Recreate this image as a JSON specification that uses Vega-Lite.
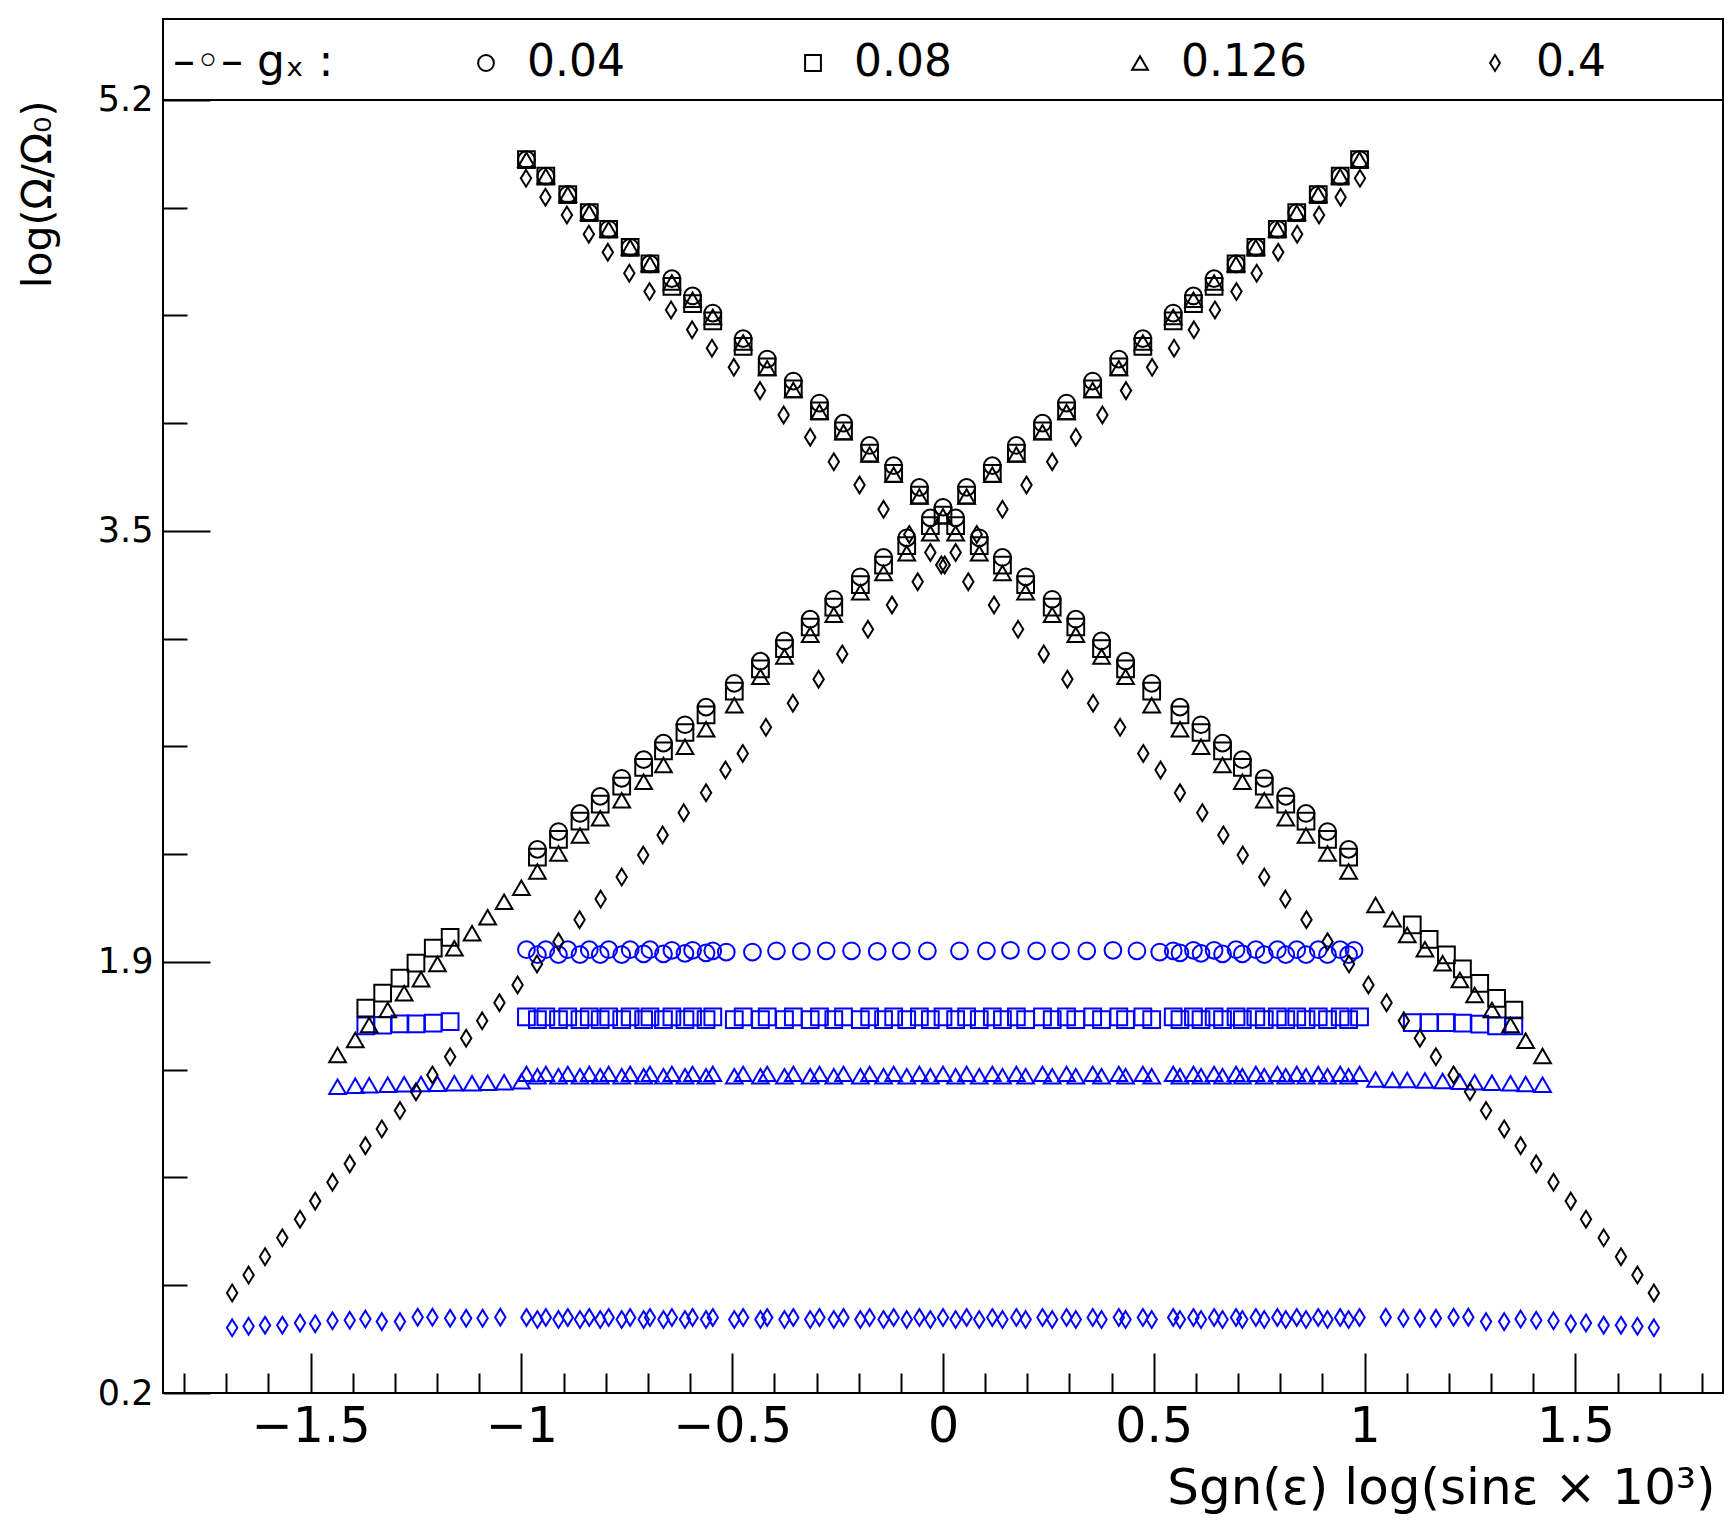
{
  "$schema": "https://vega.github.io/schema/vega-lite/v6.json",
  "description": "Log frequency ratio versus signed log(sin eps x 10^3) for four g_x values",
  "width": 1560,
  "height": 1374,
  "autosize": {"type": "none"},
  "padding": {"left": 163, "top": 19, "right": 12, "bottom": 129},
  "background": "white",
  "config": {
    "view": {"stroke": "black", "strokeWidth": 2},
    "font": "DejaVu Sans",
    "axis": {"grid": false, "domain": false, "labelFont": "DejaVu Sans", "titleFont": "DejaVu Sans", "labelColor": "black", "titleColor": "black", "tickColor": "black", "tickWidth": 2, "titleFontWeight": "normal"}
  },
  "layer": [
    {
      "data": {"values": [
        {"x":-0.988,"y":1.914,"g":"0.04","m":"f"},{"x":-0.962,"y":1.895,"g":"0.04","m":"f"},{"x":-0.942,"y":1.914,"g":"0.04","m":"f"},{"x":-0.912,"y":1.895,"g":"0.04","m":"f"},
        {"x":-0.890,"y":1.914,"g":"0.04","m":"f"},{"x":-0.861,"y":1.895,"g":"0.04","m":"f"},{"x":-0.839,"y":1.914,"g":"0.04","m":"f"},{"x":-0.813,"y":1.895,"g":"0.04","m":"f"},
        {"x":-0.793,"y":1.914,"g":"0.04","m":"f"},{"x":-0.762,"y":1.895,"g":"0.04","m":"f"},{"x":-0.742,"y":1.914,"g":"0.04","m":"f"},{"x":-0.710,"y":1.898,"g":"0.04","m":"f"},
        {"x":-0.695,"y":1.914,"g":"0.04","m":"f"},{"x":-0.663,"y":1.898,"g":"0.04","m":"f"},{"x":-0.643,"y":1.912,"g":"0.04","m":"f"},{"x":-0.612,"y":1.900,"g":"0.04","m":"f"},
        {"x":-0.594,"y":1.912,"g":"0.04","m":"f"},{"x":-0.562,"y":1.902,"g":"0.04","m":"f"},{"x":-0.546,"y":1.910,"g":"0.04","m":"f"},{"x":-0.514,"y":1.905,"g":"0.04","m":"f"},
        {"x":-0.452,"y":1.905,"g":"0.04","m":"f"},{"x":-0.395,"y":1.910,"g":"0.04","m":"f"},{"x":-0.336,"y":1.908,"g":"0.04","m":"f"},{"x":-0.277,"y":1.910,"g":"0.04","m":"f"},
        {"x":-0.217,"y":1.910,"g":"0.04","m":"f"},{"x":-0.156,"y":1.908,"g":"0.04","m":"f"},{"x":-0.099,"y":1.910,"g":"0.04","m":"f"},{"x":-0.037,"y":1.910,"g":"0.04","m":"f"},
        {"x":0.039,"y":1.910,"g":"0.04","m":"f"},{"x":0.103,"y":1.910,"g":"0.04","m":"f"},{"x":0.160,"y":1.912,"g":"0.04","m":"f"},{"x":0.222,"y":1.910,"g":"0.04","m":"f"},
        {"x":0.279,"y":1.910,"g":"0.04","m":"f"},{"x":0.341,"y":1.910,"g":"0.04","m":"f"},{"x":0.403,"y":1.912,"g":"0.04","m":"f"},{"x":0.460,"y":1.910,"g":"0.04","m":"f"},
        {"x":0.514,"y":1.905,"g":"0.04","m":"f"},{"x":0.546,"y":1.910,"g":"0.04","m":"f"},{"x":0.562,"y":1.902,"g":"0.04","m":"f"},{"x":0.594,"y":1.912,"g":"0.04","m":"f"},
        {"x":0.612,"y":1.900,"g":"0.04","m":"f"},{"x":0.643,"y":1.912,"g":"0.04","m":"f"},{"x":0.663,"y":1.898,"g":"0.04","m":"f"},{"x":0.695,"y":1.914,"g":"0.04","m":"f"},
        {"x":0.710,"y":1.898,"g":"0.04","m":"f"},{"x":0.742,"y":1.914,"g":"0.04","m":"f"},{"x":0.762,"y":1.895,"g":"0.04","m":"f"},{"x":0.793,"y":1.914,"g":"0.04","m":"f"},
        {"x":0.813,"y":1.895,"g":"0.04","m":"f"},{"x":0.839,"y":1.914,"g":"0.04","m":"f"},{"x":0.861,"y":1.895,"g":"0.04","m":"f"},{"x":0.890,"y":1.914,"g":"0.04","m":"f"},
        {"x":0.912,"y":1.895,"g":"0.04","m":"f"},{"x":0.942,"y":1.914,"g":"0.04","m":"f"},{"x":0.962,"y":1.895,"g":"0.04","m":"f"},{"x":0.975,"y":1.912,"g":"0.04","m":"f"},

        {"x":-1.369,"y":1.620,"g":"0.08","m":"f"},{"x":-1.329,"y":1.622,"g":"0.08","m":"f"},{"x":-1.288,"y":1.627,"g":"0.08","m":"f"},{"x":-1.250,"y":1.627,"g":"0.08","m":"f"},
        {"x":-1.209,"y":1.630,"g":"0.08","m":"f"},{"x":-1.169,"y":1.636,"g":"0.08","m":"f"},
        {"x":-0.988,"y":1.654,"g":"0.08","m":"f"},{"x":-0.962,"y":1.644,"g":"0.08","m":"f"},{"x":-0.942,"y":1.654,"g":"0.08","m":"f"},{"x":-0.912,"y":1.644,"g":"0.08","m":"f"},
        {"x":-0.890,"y":1.654,"g":"0.08","m":"f"},{"x":-0.861,"y":1.644,"g":"0.08","m":"f"},{"x":-0.839,"y":1.654,"g":"0.08","m":"f"},{"x":-0.813,"y":1.644,"g":"0.08","m":"f"},
        {"x":-0.793,"y":1.654,"g":"0.08","m":"f"},{"x":-0.762,"y":1.644,"g":"0.08","m":"f"},{"x":-0.742,"y":1.654,"g":"0.08","m":"f"},{"x":-0.710,"y":1.644,"g":"0.08","m":"f"},
        {"x":-0.695,"y":1.654,"g":"0.08","m":"f"},{"x":-0.663,"y":1.644,"g":"0.08","m":"f"},{"x":-0.643,"y":1.654,"g":"0.08","m":"f"},{"x":-0.612,"y":1.644,"g":"0.08","m":"f"},
        {"x":-0.594,"y":1.654,"g":"0.08","m":"f"},{"x":-0.562,"y":1.644,"g":"0.08","m":"f"},{"x":-0.546,"y":1.654,"g":"0.08","m":"f"},{"x":-0.495,"y":1.644,"g":"0.08","m":"f"},
        {"x":-0.474,"y":1.654,"g":"0.08","m":"f"},{"x":-0.433,"y":1.644,"g":"0.08","m":"f"},{"x":-0.417,"y":1.654,"g":"0.08","m":"f"},{"x":-0.376,"y":1.644,"g":"0.08","m":"f"},
        {"x":-0.355,"y":1.654,"g":"0.08","m":"f"},{"x":-0.315,"y":1.644,"g":"0.08","m":"f"},{"x":-0.293,"y":1.654,"g":"0.08","m":"f"},{"x":-0.259,"y":1.644,"g":"0.08","m":"f"},
        {"x":-0.236,"y":1.654,"g":"0.08","m":"f"},{"x":-0.196,"y":1.644,"g":"0.08","m":"f"},{"x":-0.174,"y":1.654,"g":"0.08","m":"f"},{"x":-0.141,"y":1.644,"g":"0.08","m":"f"},
        {"x":-0.117,"y":1.654,"g":"0.08","m":"f"},{"x":-0.086,"y":1.644,"g":"0.08","m":"f"},{"x":-0.056,"y":1.654,"g":"0.08","m":"f"},{"x":-0.030,"y":1.644,"g":"0.08","m":"f"},
        {"x":0.000,"y":1.654,"g":"0.08","m":"f"},
        {"x":0.030,"y":1.644,"g":"0.08","m":"f"},{"x":0.056,"y":1.654,"g":"0.08","m":"f"},{"x":0.086,"y":1.644,"g":"0.08","m":"f"},{"x":0.117,"y":1.654,"g":"0.08","m":"f"},
        {"x":0.141,"y":1.644,"g":"0.08","m":"f"},{"x":0.174,"y":1.654,"g":"0.08","m":"f"},{"x":0.196,"y":1.644,"g":"0.08","m":"f"},{"x":0.236,"y":1.654,"g":"0.08","m":"f"},
        {"x":0.259,"y":1.644,"g":"0.08","m":"f"},{"x":0.293,"y":1.654,"g":"0.08","m":"f"},{"x":0.315,"y":1.644,"g":"0.08","m":"f"},{"x":0.355,"y":1.654,"g":"0.08","m":"f"},
        {"x":0.376,"y":1.644,"g":"0.08","m":"f"},{"x":0.417,"y":1.654,"g":"0.08","m":"f"},{"x":0.433,"y":1.644,"g":"0.08","m":"f"},{"x":0.474,"y":1.654,"g":"0.08","m":"f"},
        {"x":0.495,"y":1.644,"g":"0.08","m":"f"},{"x":0.546,"y":1.654,"g":"0.08","m":"f"},{"x":0.562,"y":1.644,"g":"0.08","m":"f"},{"x":0.594,"y":1.654,"g":"0.08","m":"f"},
        {"x":0.612,"y":1.644,"g":"0.08","m":"f"},{"x":0.643,"y":1.654,"g":"0.08","m":"f"},{"x":0.663,"y":1.644,"g":"0.08","m":"f"},{"x":0.695,"y":1.654,"g":"0.08","m":"f"},
        {"x":0.710,"y":1.644,"g":"0.08","m":"f"},{"x":0.742,"y":1.654,"g":"0.08","m":"f"},{"x":0.762,"y":1.644,"g":"0.08","m":"f"},{"x":0.793,"y":1.654,"g":"0.08","m":"f"},
        {"x":0.813,"y":1.644,"g":"0.08","m":"f"},{"x":0.839,"y":1.654,"g":"0.08","m":"f"},{"x":0.861,"y":1.644,"g":"0.08","m":"f"},{"x":0.890,"y":1.654,"g":"0.08","m":"f"},
        {"x":0.912,"y":1.644,"g":"0.08","m":"f"},{"x":0.942,"y":1.654,"g":"0.08","m":"f"},{"x":0.962,"y":1.644,"g":"0.08","m":"f"},{"x":0.988,"y":1.654,"g":"0.08","m":"f"},
        {"x":1.113,"y":1.632,"g":"0.08","m":"f"},{"x":1.153,"y":1.632,"g":"0.08","m":"f"},{"x":1.194,"y":1.632,"g":"0.08","m":"f"},{"x":1.232,"y":1.630,"g":"0.08","m":"f"},
        {"x":1.273,"y":1.626,"g":"0.08","m":"f"},{"x":1.313,"y":1.620,"g":"0.08","m":"f"},{"x":1.354,"y":1.620,"g":"0.08","m":"f"},

        {"x":-1.436,"y":1.384,"g":"0.126","m":"f"},{"x":-1.394,"y":1.388,"g":"0.126","m":"f"},{"x":-1.361,"y":1.390,"g":"0.126","m":"f"},{"x":-1.317,"y":1.392,"g":"0.126","m":"f"},
        {"x":-1.278,"y":1.394,"g":"0.126","m":"f"},{"x":-1.238,"y":1.395,"g":"0.126","m":"f"},{"x":-1.199,"y":1.396,"g":"0.126","m":"f"},{"x":-1.159,"y":1.398,"g":"0.126","m":"f"},
        {"x":-1.117,"y":1.398,"g":"0.126","m":"f"},{"x":-1.080,"y":1.400,"g":"0.126","m":"f"},{"x":-1.041,"y":1.402,"g":"0.126","m":"f"},{"x":-1.000,"y":1.405,"g":"0.126","m":"f"},
        {"x":-0.988,"y":1.434,"g":"0.126","m":"f"},{"x":-0.962,"y":1.425,"g":"0.126","m":"f"},{"x":-0.942,"y":1.434,"g":"0.126","m":"f"},{"x":-0.912,"y":1.425,"g":"0.126","m":"f"},
        {"x":-0.890,"y":1.434,"g":"0.126","m":"f"},{"x":-0.861,"y":1.425,"g":"0.126","m":"f"},{"x":-0.839,"y":1.434,"g":"0.126","m":"f"},{"x":-0.813,"y":1.425,"g":"0.126","m":"f"},
        {"x":-0.793,"y":1.434,"g":"0.126","m":"f"},{"x":-0.762,"y":1.425,"g":"0.126","m":"f"},{"x":-0.742,"y":1.434,"g":"0.126","m":"f"},{"x":-0.710,"y":1.425,"g":"0.126","m":"f"},
        {"x":-0.695,"y":1.434,"g":"0.126","m":"f"},{"x":-0.663,"y":1.425,"g":"0.126","m":"f"},{"x":-0.643,"y":1.434,"g":"0.126","m":"f"},{"x":-0.612,"y":1.425,"g":"0.126","m":"f"},
        {"x":-0.594,"y":1.434,"g":"0.126","m":"f"},{"x":-0.562,"y":1.425,"g":"0.126","m":"f"},{"x":-0.546,"y":1.434,"g":"0.126","m":"f"},{"x":-0.495,"y":1.425,"g":"0.126","m":"f"},
        {"x":-0.474,"y":1.434,"g":"0.126","m":"f"},{"x":-0.433,"y":1.425,"g":"0.126","m":"f"},{"x":-0.417,"y":1.434,"g":"0.126","m":"f"},{"x":-0.376,"y":1.425,"g":"0.126","m":"f"},
        {"x":-0.355,"y":1.434,"g":"0.126","m":"f"},{"x":-0.315,"y":1.425,"g":"0.126","m":"f"},{"x":-0.293,"y":1.434,"g":"0.126","m":"f"},{"x":-0.259,"y":1.425,"g":"0.126","m":"f"},
        {"x":-0.236,"y":1.434,"g":"0.126","m":"f"},{"x":-0.196,"y":1.425,"g":"0.126","m":"f"},{"x":-0.174,"y":1.434,"g":"0.126","m":"f"},{"x":-0.141,"y":1.425,"g":"0.126","m":"f"},
        {"x":-0.117,"y":1.434,"g":"0.126","m":"f"},{"x":-0.086,"y":1.425,"g":"0.126","m":"f"},{"x":-0.056,"y":1.434,"g":"0.126","m":"f"},{"x":-0.030,"y":1.425,"g":"0.126","m":"f"},
        {"x":0.000,"y":1.434,"g":"0.126","m":"f"},
        {"x":0.030,"y":1.425,"g":"0.126","m":"f"},{"x":0.056,"y":1.434,"g":"0.126","m":"f"},{"x":0.086,"y":1.425,"g":"0.126","m":"f"},{"x":0.117,"y":1.434,"g":"0.126","m":"f"},
        {"x":0.141,"y":1.425,"g":"0.126","m":"f"},{"x":0.174,"y":1.434,"g":"0.126","m":"f"},{"x":0.196,"y":1.425,"g":"0.126","m":"f"},{"x":0.236,"y":1.434,"g":"0.126","m":"f"},
        {"x":0.259,"y":1.425,"g":"0.126","m":"f"},{"x":0.293,"y":1.434,"g":"0.126","m":"f"},{"x":0.315,"y":1.425,"g":"0.126","m":"f"},{"x":0.355,"y":1.434,"g":"0.126","m":"f"},
        {"x":0.376,"y":1.425,"g":"0.126","m":"f"},{"x":0.417,"y":1.434,"g":"0.126","m":"f"},{"x":0.433,"y":1.425,"g":"0.126","m":"f"},{"x":0.474,"y":1.434,"g":"0.126","m":"f"},
        {"x":0.495,"y":1.425,"g":"0.126","m":"f"},{"x":0.546,"y":1.434,"g":"0.126","m":"f"},{"x":0.562,"y":1.425,"g":"0.126","m":"f"},{"x":0.594,"y":1.434,"g":"0.126","m":"f"},
        {"x":0.612,"y":1.425,"g":"0.126","m":"f"},{"x":0.643,"y":1.434,"g":"0.126","m":"f"},{"x":0.663,"y":1.425,"g":"0.126","m":"f"},{"x":0.695,"y":1.434,"g":"0.126","m":"f"},
        {"x":0.710,"y":1.425,"g":"0.126","m":"f"},{"x":0.742,"y":1.434,"g":"0.126","m":"f"},{"x":0.762,"y":1.425,"g":"0.126","m":"f"},{"x":0.793,"y":1.434,"g":"0.126","m":"f"},
        {"x":0.813,"y":1.425,"g":"0.126","m":"f"},{"x":0.839,"y":1.434,"g":"0.126","m":"f"},{"x":0.861,"y":1.425,"g":"0.126","m":"f"},{"x":0.890,"y":1.434,"g":"0.126","m":"f"},
        {"x":0.912,"y":1.425,"g":"0.126","m":"f"},{"x":0.942,"y":1.434,"g":"0.126","m":"f"},{"x":0.962,"y":1.425,"g":"0.126","m":"f"},{"x":0.988,"y":1.434,"g":"0.126","m":"f"},
        {"x":1.026,"y":1.412,"g":"0.126","m":"f"},{"x":1.066,"y":1.410,"g":"0.126","m":"f"},{"x":1.101,"y":1.410,"g":"0.126","m":"f"},{"x":1.143,"y":1.408,"g":"0.126","m":"f"},
        {"x":1.185,"y":1.406,"g":"0.126","m":"f"},{"x":1.226,"y":1.404,"g":"0.126","m":"f"},{"x":1.261,"y":1.402,"g":"0.126","m":"f"},{"x":1.302,"y":1.400,"g":"0.126","m":"f"},
        {"x":1.346,"y":1.398,"g":"0.126","m":"f"},{"x":1.382,"y":1.395,"g":"0.126","m":"f"},{"x":1.422,"y":1.392,"g":"0.126","m":"f"},

        {"x":-1.686,"y":0.452,"g":"0.4","m":"f"},{"x":-1.647,"y":0.458,"g":"0.4","m":"f"},{"x":-1.608,"y":0.462,"g":"0.4","m":"f"},{"x":-1.567,"y":0.462,"g":"0.4","m":"f"},
        {"x":-1.525,"y":0.471,"g":"0.4","m":"f"},{"x":-1.489,"y":0.468,"g":"0.4","m":"f"},{"x":-1.448,"y":0.479,"g":"0.4","m":"f"},{"x":-1.407,"y":0.481,"g":"0.4","m":"f"},
        {"x":-1.370,"y":0.486,"g":"0.4","m":"f"},{"x":-1.331,"y":0.476,"g":"0.4","m":"f"},{"x":-1.288,"y":0.476,"g":"0.4","m":"f"},{"x":-1.246,"y":0.493,"g":"0.4","m":"f"},
        {"x":-1.211,"y":0.493,"g":"0.4","m":"f"},{"x":-1.169,"y":0.489,"g":"0.4","m":"f"},{"x":-1.131,"y":0.489,"g":"0.4","m":"f"},{"x":-1.092,"y":0.489,"g":"0.4","m":"f"},
        {"x":-1.050,"y":0.493,"g":"0.4","m":"f"},
        {"x":-0.988,"y":0.492,"g":"0.4","m":"f"},{"x":-0.962,"y":0.484,"g":"0.4","m":"f"},{"x":-0.942,"y":0.492,"g":"0.4","m":"f"},{"x":-0.912,"y":0.484,"g":"0.4","m":"f"},
        {"x":-0.890,"y":0.492,"g":"0.4","m":"f"},{"x":-0.861,"y":0.484,"g":"0.4","m":"f"},{"x":-0.839,"y":0.492,"g":"0.4","m":"f"},{"x":-0.813,"y":0.484,"g":"0.4","m":"f"},
        {"x":-0.793,"y":0.492,"g":"0.4","m":"f"},{"x":-0.762,"y":0.484,"g":"0.4","m":"f"},{"x":-0.742,"y":0.492,"g":"0.4","m":"f"},{"x":-0.710,"y":0.484,"g":"0.4","m":"f"},
        {"x":-0.695,"y":0.492,"g":"0.4","m":"f"},{"x":-0.663,"y":0.484,"g":"0.4","m":"f"},{"x":-0.643,"y":0.492,"g":"0.4","m":"f"},{"x":-0.612,"y":0.484,"g":"0.4","m":"f"},
        {"x":-0.594,"y":0.492,"g":"0.4","m":"f"},{"x":-0.562,"y":0.484,"g":"0.4","m":"f"},{"x":-0.546,"y":0.492,"g":"0.4","m":"f"},{"x":-0.495,"y":0.484,"g":"0.4","m":"f"},
        {"x":-0.474,"y":0.492,"g":"0.4","m":"f"},{"x":-0.433,"y":0.484,"g":"0.4","m":"f"},{"x":-0.417,"y":0.492,"g":"0.4","m":"f"},{"x":-0.376,"y":0.484,"g":"0.4","m":"f"},
        {"x":-0.355,"y":0.492,"g":"0.4","m":"f"},{"x":-0.315,"y":0.484,"g":"0.4","m":"f"},{"x":-0.293,"y":0.492,"g":"0.4","m":"f"},{"x":-0.259,"y":0.484,"g":"0.4","m":"f"},
        {"x":-0.236,"y":0.492,"g":"0.4","m":"f"},{"x":-0.196,"y":0.484,"g":"0.4","m":"f"},{"x":-0.174,"y":0.492,"g":"0.4","m":"f"},{"x":-0.141,"y":0.484,"g":"0.4","m":"f"},
        {"x":-0.117,"y":0.492,"g":"0.4","m":"f"},{"x":-0.086,"y":0.484,"g":"0.4","m":"f"},{"x":-0.056,"y":0.492,"g":"0.4","m":"f"},{"x":-0.030,"y":0.484,"g":"0.4","m":"f"},
        {"x":0.000,"y":0.492,"g":"0.4","m":"f"},
        {"x":0.030,"y":0.484,"g":"0.4","m":"f"},{"x":0.056,"y":0.492,"g":"0.4","m":"f"},{"x":0.086,"y":0.484,"g":"0.4","m":"f"},{"x":0.117,"y":0.492,"g":"0.4","m":"f"},
        {"x":0.141,"y":0.484,"g":"0.4","m":"f"},{"x":0.174,"y":0.492,"g":"0.4","m":"f"},{"x":0.196,"y":0.484,"g":"0.4","m":"f"},{"x":0.236,"y":0.492,"g":"0.4","m":"f"},
        {"x":0.259,"y":0.484,"g":"0.4","m":"f"},{"x":0.293,"y":0.492,"g":"0.4","m":"f"},{"x":0.315,"y":0.484,"g":"0.4","m":"f"},{"x":0.355,"y":0.492,"g":"0.4","m":"f"},
        {"x":0.376,"y":0.484,"g":"0.4","m":"f"},{"x":0.417,"y":0.492,"g":"0.4","m":"f"},{"x":0.433,"y":0.484,"g":"0.4","m":"f"},{"x":0.474,"y":0.492,"g":"0.4","m":"f"},
        {"x":0.495,"y":0.484,"g":"0.4","m":"f"},{"x":0.546,"y":0.492,"g":"0.4","m":"f"},{"x":0.562,"y":0.484,"g":"0.4","m":"f"},{"x":0.594,"y":0.492,"g":"0.4","m":"f"},
        {"x":0.612,"y":0.484,"g":"0.4","m":"f"},{"x":0.643,"y":0.492,"g":"0.4","m":"f"},{"x":0.663,"y":0.484,"g":"0.4","m":"f"},{"x":0.695,"y":0.492,"g":"0.4","m":"f"},
        {"x":0.710,"y":0.484,"g":"0.4","m":"f"},{"x":0.742,"y":0.492,"g":"0.4","m":"f"},{"x":0.762,"y":0.484,"g":"0.4","m":"f"},{"x":0.793,"y":0.492,"g":"0.4","m":"f"},
        {"x":0.813,"y":0.484,"g":"0.4","m":"f"},{"x":0.839,"y":0.492,"g":"0.4","m":"f"},{"x":0.861,"y":0.484,"g":"0.4","m":"f"},{"x":0.890,"y":0.492,"g":"0.4","m":"f"},
        {"x":0.912,"y":0.484,"g":"0.4","m":"f"},{"x":0.942,"y":0.492,"g":"0.4","m":"f"},{"x":0.962,"y":0.484,"g":"0.4","m":"f"},{"x":0.988,"y":0.492,"g":"0.4","m":"f"},
        {"x":1.050,"y":0.493,"g":"0.4","m":"f"},{"x":1.092,"y":0.489,"g":"0.4","m":"f"},{"x":1.131,"y":0.489,"g":"0.4","m":"f"},{"x":1.169,"y":0.489,"g":"0.4","m":"f"},
        {"x":1.211,"y":0.493,"g":"0.4","m":"f"},{"x":1.246,"y":0.493,"g":"0.4","m":"f"},{"x":1.288,"y":0.476,"g":"0.4","m":"f"},{"x":1.331,"y":0.476,"g":"0.4","m":"f"},
        {"x":1.370,"y":0.486,"g":"0.4","m":"f"},{"x":1.407,"y":0.481,"g":"0.4","m":"f"},{"x":1.448,"y":0.479,"g":"0.4","m":"f"},{"x":1.489,"y":0.468,"g":"0.4","m":"f"},
        {"x":1.525,"y":0.471,"g":"0.4","m":"f"},{"x":1.567,"y":0.462,"g":"0.4","m":"f"},{"x":1.608,"y":0.462,"g":"0.4","m":"f"},{"x":1.647,"y":0.458,"g":"0.4","m":"f"},
        {"x":1.686,"y":0.452,"g":"0.4","m":"f"},

        {"x":-1.686,"y":0.587,"g":"0.4","m":"c"},{"x":-1.647,"y":0.656,"g":"0.4","m":"c"},{"x":-1.608,"y":0.727,"g":"0.4","m":"c"},{"x":-1.567,"y":0.800,"g":"0.4","m":"c"},
        {"x":-1.525,"y":0.872,"g":"0.4","m":"c"},{"x":-1.489,"y":0.942,"g":"0.4","m":"c"},{"x":-1.448,"y":1.015,"g":"0.4","m":"c"},{"x":-1.407,"y":1.086,"g":"0.4","m":"c"},
        {"x":-1.370,"y":1.156,"g":"0.4","m":"c"},{"x":-1.331,"y":1.221,"g":"0.4","m":"c"},{"x":-1.288,"y":1.292,"g":"0.4","m":"c"},{"x":-1.250,"y":1.365,"g":"0.4","m":"c"},
        {"x":-1.211,"y":1.430,"g":"0.4","m":"c"},{"x":-1.169,"y":1.500,"g":"0.4","m":"c"},{"x":-1.131,"y":1.572,"g":"0.4","m":"c"},{"x":-1.093,"y":1.639,"g":"0.4","m":"c"},
        {"x":-1.052,"y":1.709,"g":"0.4","m":"c"},{"x":-1.009,"y":1.778,"g":"0.4","m":"c"},{"x":-0.963,"y":1.859,"g":"0.4","m":"c"},{"x":-0.912,"y":1.945,"g":"0.4","m":"c"},
        {"x":-0.862,"y":2.030,"g":"0.4","m":"c"},{"x":-0.812,"y":2.110,"g":"0.4","m":"c"},{"x":-0.762,"y":2.195,"g":"0.4","m":"c"},{"x":-0.711,"y":2.280,"g":"0.4","m":"c"},
        {"x":-0.665,"y":2.358,"g":"0.4","m":"c"},{"x":-0.615,"y":2.444,"g":"0.4","m":"c"},{"x":-0.562,"y":2.521,"g":"0.4","m":"c"},{"x":-0.516,"y":2.609,"g":"0.4","m":"c"},
        {"x":-0.475,"y":2.673,"g":"0.4","m":"c"},{"x":-0.420,"y":2.774,"g":"0.4","m":"c"},{"x":-0.356,"y":2.867,"g":"0.4","m":"c"},{"x":-0.295,"y":2.960,"g":"0.4","m":"c"},
        {"x":-0.239,"y":3.058,"g":"0.4","m":"c"},{"x":-0.178,"y":3.153,"g":"0.4","m":"c"},{"x":-0.121,"y":3.247,"g":"0.4","m":"c"},{"x":-0.060,"y":3.337,"g":"0.4","m":"c"},
        {"x":-0.004,"y":3.402,"g":"0.4","m":"c"},{"x":0.030,"y":3.450,"g":"0.4","m":"c"},{"x":0.080,"y":3.520,"g":"0.4","m":"c"},{"x":0.141,"y":3.617,"g":"0.4","m":"c"},
        {"x":0.198,"y":3.711,"g":"0.4","m":"c"},{"x":0.259,"y":3.801,"g":"0.4","m":"c"},{"x":0.315,"y":3.896,"g":"0.4","m":"c"},{"x":0.378,"y":3.982,"g":"0.4","m":"c"},
        {"x":0.434,"y":4.076,"g":"0.4","m":"c"},{"x":0.496,"y":4.166,"g":"0.4","m":"c"},{"x":0.548,"y":4.240,"g":"0.4","m":"c"},{"x":0.595,"y":4.311,"g":"0.4","m":"c"},
        {"x":0.645,"y":4.388,"g":"0.4","m":"c"},{"x":0.696,"y":4.459,"g":"0.4","m":"c"},{"x":0.744,"y":4.530,"g":"0.4","m":"c"},{"x":0.795,"y":4.611,"g":"0.4","m":"c"},
        {"x":0.840,"y":4.681,"g":"0.4","m":"c"},{"x":0.892,"y":4.755,"g":"0.4","m":"c"},{"x":0.943,"y":4.824,"g":"0.4","m":"c"},{"x":0.989,"y":4.897,"g":"0.4","m":"c"},
        {"x":1.686,"y":0.587,"g":"0.4","m":"c"},{"x":1.647,"y":0.656,"g":"0.4","m":"c"},{"x":1.608,"y":0.727,"g":"0.4","m":"c"},{"x":1.567,"y":0.800,"g":"0.4","m":"c"},
        {"x":1.525,"y":0.872,"g":"0.4","m":"c"},{"x":1.489,"y":0.942,"g":"0.4","m":"c"},{"x":1.448,"y":1.015,"g":"0.4","m":"c"},{"x":1.407,"y":1.086,"g":"0.4","m":"c"},
        {"x":1.370,"y":1.156,"g":"0.4","m":"c"},{"x":1.331,"y":1.221,"g":"0.4","m":"c"},{"x":1.288,"y":1.292,"g":"0.4","m":"c"},{"x":1.250,"y":1.365,"g":"0.4","m":"c"},
        {"x":1.211,"y":1.430,"g":"0.4","m":"c"},{"x":1.169,"y":1.500,"g":"0.4","m":"c"},{"x":1.131,"y":1.572,"g":"0.4","m":"c"},{"x":1.093,"y":1.639,"g":"0.4","m":"c"},
        {"x":1.052,"y":1.709,"g":"0.4","m":"c"},{"x":1.009,"y":1.778,"g":"0.4","m":"c"},{"x":0.963,"y":1.859,"g":"0.4","m":"c"},{"x":0.912,"y":1.945,"g":"0.4","m":"c"},
        {"x":0.862,"y":2.030,"g":"0.4","m":"c"},{"x":0.812,"y":2.110,"g":"0.4","m":"c"},{"x":0.762,"y":2.195,"g":"0.4","m":"c"},{"x":0.711,"y":2.280,"g":"0.4","m":"c"},
        {"x":0.665,"y":2.358,"g":"0.4","m":"c"},{"x":0.615,"y":2.444,"g":"0.4","m":"c"},{"x":0.562,"y":2.521,"g":"0.4","m":"c"},{"x":0.516,"y":2.609,"g":"0.4","m":"c"},
        {"x":0.475,"y":2.673,"g":"0.4","m":"c"},{"x":0.420,"y":2.774,"g":"0.4","m":"c"},{"x":0.356,"y":2.867,"g":"0.4","m":"c"},{"x":0.295,"y":2.960,"g":"0.4","m":"c"},
        {"x":0.239,"y":3.058,"g":"0.4","m":"c"},{"x":0.178,"y":3.153,"g":"0.4","m":"c"},{"x":0.121,"y":3.247,"g":"0.4","m":"c"},{"x":0.060,"y":3.337,"g":"0.4","m":"c"},
        {"x":0.004,"y":3.402,"g":"0.4","m":"c"},{"x":-0.030,"y":3.450,"g":"0.4","m":"c"},{"x":-0.080,"y":3.520,"g":"0.4","m":"c"},{"x":-0.141,"y":3.617,"g":"0.4","m":"c"},
        {"x":-0.198,"y":3.711,"g":"0.4","m":"c"},{"x":-0.259,"y":3.801,"g":"0.4","m":"c"},{"x":-0.315,"y":3.896,"g":"0.4","m":"c"},{"x":-0.378,"y":3.982,"g":"0.4","m":"c"},
        {"x":-0.434,"y":4.076,"g":"0.4","m":"c"},{"x":-0.496,"y":4.166,"g":"0.4","m":"c"},{"x":-0.548,"y":4.240,"g":"0.4","m":"c"},{"x":-0.595,"y":4.311,"g":"0.4","m":"c"},
        {"x":-0.645,"y":4.388,"g":"0.4","m":"c"},{"x":-0.696,"y":4.459,"g":"0.4","m":"c"},{"x":-0.744,"y":4.530,"g":"0.4","m":"c"},{"x":-0.795,"y":4.611,"g":"0.4","m":"c"},
        {"x":-0.840,"y":4.681,"g":"0.4","m":"c"},{"x":-0.892,"y":4.755,"g":"0.4","m":"c"},{"x":-0.943,"y":4.824,"g":"0.4","m":"c"},{"x":-0.989,"y":4.897,"g":"0.4","m":"c"},

        {"x":-1.436,"y":1.507,"g":"0.126","m":"c"},{"x":-1.394,"y":1.565,"g":"0.126","m":"c"},{"x":-1.361,"y":1.623,"g":"0.126","m":"c"},{"x":-1.317,"y":1.681,"g":"0.126","m":"c"},
        {"x":-1.278,"y":1.746,"g":"0.126","m":"c"},{"x":-1.238,"y":1.800,"g":"0.126","m":"c"},{"x":-1.199,"y":1.859,"g":"0.126","m":"c"},{"x":-1.159,"y":1.920,"g":"0.126","m":"c"},
        {"x":-1.117,"y":1.978,"g":"0.126","m":"c"},{"x":-1.080,"y":2.040,"g":"0.126","m":"c"},{"x":-1.041,"y":2.100,"g":"0.126","m":"c"},{"x":-1.000,"y":2.154,"g":"0.126","m":"c"},
        {"x":1.026,"y":2.087,"g":"0.126","m":"c"},{"x":1.066,"y":2.032,"g":"0.126","m":"c"},{"x":1.101,"y":1.971,"g":"0.126","m":"c"},{"x":1.143,"y":1.916,"g":"0.126","m":"c"},
        {"x":1.185,"y":1.862,"g":"0.126","m":"c"},{"x":1.226,"y":1.797,"g":"0.126","m":"c"},{"x":1.261,"y":1.739,"g":"0.126","m":"c"},{"x":1.302,"y":1.681,"g":"0.126","m":"c"},
        {"x":1.346,"y":1.623,"g":"0.126","m":"c"},{"x":1.382,"y":1.562,"g":"0.126","m":"c"},{"x":1.422,"y":1.503,"g":"0.126","m":"c"},
        {"x":-0.988,"y":4.969,"g":"0.126","m":"c"},{"x":-0.942,"y":4.905,"g":"0.126","m":"c"},{"x":-0.890,"y":4.834,"g":"0.126","m":"c"},{"x":-0.839,"y":4.764,"g":"0.126","m":"c"},
        {"x":-0.793,"y":4.700,"g":"0.126","m":"c"},{"x":-0.742,"y":4.630,"g":"0.126","m":"c"},{"x":-0.695,"y":4.566,"g":"0.126","m":"c"},{"x":-0.643,"y":4.494,"g":"0.126","m":"c"},
        {"x":-0.594,"y":4.427,"g":"0.126","m":"c"},{"x":-0.546,"y":4.361,"g":"0.126","m":"c"},{"x":-0.474,"y":4.262,"g":"0.126","m":"c"},{"x":-0.417,"y":4.163,"g":"0.126","m":"c"},
        {"x":-0.355,"y":4.078,"g":"0.126","m":"c"},{"x":-0.293,"y":3.993,"g":"0.126","m":"c"},{"x":-0.236,"y":3.915,"g":"0.126","m":"c"},{"x":-0.174,"y":3.829,"g":"0.126","m":"c"},
        {"x":-0.117,"y":3.751,"g":"0.126","m":"c"},{"x":-0.056,"y":3.667,"g":"0.126","m":"c"},{"x":0.000,"y":3.590,"g":"0.126","m":"c"},{"x":0.030,"y":3.524,"g":"0.126","m":"c"},
        {"x":0.086,"y":3.447,"g":"0.126","m":"c"},{"x":0.141,"y":3.371,"g":"0.126","m":"c"},{"x":0.196,"y":3.296,"g":"0.126","m":"c"},{"x":0.259,"y":3.209,"g":"0.126","m":"c"},
        {"x":0.315,"y":3.132,"g":"0.126","m":"c"},{"x":0.376,"y":3.048,"g":"0.126","m":"c"},{"x":0.433,"y":2.970,"g":"0.126","m":"c"},{"x":0.495,"y":2.859,"g":"0.126","m":"c"},
        {"x":0.562,"y":2.767,"g":"0.126","m":"c"},{"x":0.612,"y":2.699,"g":"0.126","m":"c"},{"x":0.663,"y":2.628,"g":"0.126","m":"c"},{"x":0.710,"y":2.564,"g":"0.126","m":"c"},
        {"x":0.762,"y":2.492,"g":"0.126","m":"c"},{"x":0.813,"y":2.422,"g":"0.126","m":"c"},{"x":0.861,"y":2.356,"g":"0.126","m":"c"},{"x":0.912,"y":2.286,"g":"0.126","m":"c"},
        {"x":0.962,"y":2.217,"g":"0.126","m":"c"},
        {"x":0.988,"y":4.969,"g":"0.126","m":"c"},{"x":0.942,"y":4.905,"g":"0.126","m":"c"},{"x":0.890,"y":4.834,"g":"0.126","m":"c"},{"x":0.839,"y":4.764,"g":"0.126","m":"c"},
        {"x":0.793,"y":4.700,"g":"0.126","m":"c"},{"x":0.742,"y":4.630,"g":"0.126","m":"c"},{"x":0.695,"y":4.566,"g":"0.126","m":"c"},{"x":0.643,"y":4.494,"g":"0.126","m":"c"},
        {"x":0.594,"y":4.427,"g":"0.126","m":"c"},{"x":0.546,"y":4.361,"g":"0.126","m":"c"},{"x":0.474,"y":4.262,"g":"0.126","m":"c"},{"x":0.417,"y":4.163,"g":"0.126","m":"c"},
        {"x":0.355,"y":4.078,"g":"0.126","m":"c"},{"x":0.293,"y":3.993,"g":"0.126","m":"c"},{"x":0.236,"y":3.915,"g":"0.126","m":"c"},{"x":0.174,"y":3.829,"g":"0.126","m":"c"},
        {"x":0.117,"y":3.751,"g":"0.126","m":"c"},{"x":0.056,"y":3.667,"g":"0.126","m":"c"},{"x":-0.030,"y":3.524,"g":"0.126","m":"c"},
        {"x":-0.086,"y":3.447,"g":"0.126","m":"c"},{"x":-0.141,"y":3.371,"g":"0.126","m":"c"},{"x":-0.196,"y":3.296,"g":"0.126","m":"c"},{"x":-0.259,"y":3.209,"g":"0.126","m":"c"},
        {"x":-0.315,"y":3.132,"g":"0.126","m":"c"},{"x":-0.376,"y":3.048,"g":"0.126","m":"c"},{"x":-0.433,"y":2.970,"g":"0.126","m":"c"},{"x":-0.495,"y":2.859,"g":"0.126","m":"c"},
        {"x":-0.562,"y":2.767,"g":"0.126","m":"c"},{"x":-0.612,"y":2.699,"g":"0.126","m":"c"},{"x":-0.663,"y":2.628,"g":"0.126","m":"c"},{"x":-0.710,"y":2.564,"g":"0.126","m":"c"},
        {"x":-0.762,"y":2.492,"g":"0.126","m":"c"},{"x":-0.813,"y":2.422,"g":"0.126","m":"c"},{"x":-0.861,"y":2.356,"g":"0.126","m":"c"},{"x":-0.912,"y":2.286,"g":"0.126","m":"c"},
        {"x":-0.962,"y":2.217,"g":"0.126","m":"c"},

        {"x":-1.369,"y":1.688,"g":"0.08","m":"c"},{"x":-1.329,"y":1.746,"g":"0.08","m":"c"},{"x":-1.288,"y":1.804,"g":"0.08","m":"c"},{"x":-1.250,"y":1.862,"g":"0.08","m":"c"},
        {"x":-1.209,"y":1.920,"g":"0.08","m":"c"},{"x":-1.169,"y":1.962,"g":"0.08","m":"c"},
        {"x":1.113,"y":2.010,"g":"0.08","m":"c"},{"x":1.153,"y":1.954,"g":"0.08","m":"c"},{"x":1.194,"y":1.894,"g":"0.08","m":"c"},{"x":1.232,"y":1.840,"g":"0.08","m":"c"},
        {"x":1.273,"y":1.784,"g":"0.08","m":"c"},{"x":1.313,"y":1.726,"g":"0.08","m":"c"},{"x":1.354,"y":1.681,"g":"0.08","m":"c"},
        {"x":-0.988,"y":4.969,"g":"0.08","m":"c"},{"x":-0.942,"y":4.905,"g":"0.08","m":"c"},{"x":-0.890,"y":4.834,"g":"0.08","m":"c"},{"x":-0.839,"y":4.764,"g":"0.08","m":"c"},
        {"x":-0.793,"y":4.700,"g":"0.08","m":"c"},{"x":-0.742,"y":4.630,"g":"0.08","m":"c"},{"x":-0.695,"y":4.566,"g":"0.08","m":"c"},{"x":-0.643,"y":4.479,"g":"0.08","m":"c"},
        {"x":-0.594,"y":4.412,"g":"0.08","m":"c"},{"x":-0.546,"y":4.346,"g":"0.08","m":"c"},{"x":-0.474,"y":4.247,"g":"0.08","m":"c"},{"x":-0.417,"y":4.168,"g":"0.08","m":"c"},
        {"x":-0.355,"y":4.083,"g":"0.08","m":"c"},{"x":-0.293,"y":3.998,"g":"0.08","m":"c"},{"x":-0.236,"y":3.920,"g":"0.08","m":"c"},{"x":-0.174,"y":3.834,"g":"0.08","m":"c"},
        {"x":-0.117,"y":3.756,"g":"0.08","m":"c"},{"x":-0.056,"y":3.672,"g":"0.08","m":"c"},{"x":0.000,"y":3.595,"g":"0.08","m":"c"},{"x":0.030,"y":3.554,"g":"0.08","m":"c"},
        {"x":0.086,"y":3.477,"g":"0.08","m":"c"},{"x":0.141,"y":3.401,"g":"0.08","m":"c"},{"x":0.196,"y":3.326,"g":"0.08","m":"c"},{"x":0.259,"y":3.239,"g":"0.08","m":"c"},
        {"x":0.315,"y":3.162,"g":"0.08","m":"c"},{"x":0.376,"y":3.078,"g":"0.08","m":"c"},{"x":0.433,"y":3.000,"g":"0.08","m":"c"},{"x":0.495,"y":2.914,"g":"0.08","m":"c"},
        {"x":0.562,"y":2.822,"g":"0.08","m":"c"},{"x":0.612,"y":2.754,"g":"0.08","m":"c"},{"x":0.663,"y":2.683,"g":"0.08","m":"c"},{"x":0.710,"y":2.619,"g":"0.08","m":"c"},
        {"x":0.762,"y":2.547,"g":"0.08","m":"c"},{"x":0.813,"y":2.477,"g":"0.08","m":"c"},{"x":0.861,"y":2.411,"g":"0.08","m":"c"},{"x":0.912,"y":2.341,"g":"0.08","m":"c"},
        {"x":0.962,"y":2.272,"g":"0.08","m":"c"},
        {"x":0.988,"y":4.969,"g":"0.08","m":"c"},{"x":0.942,"y":4.905,"g":"0.08","m":"c"},{"x":0.890,"y":4.834,"g":"0.08","m":"c"},{"x":0.839,"y":4.764,"g":"0.08","m":"c"},
        {"x":0.793,"y":4.700,"g":"0.08","m":"c"},{"x":0.742,"y":4.630,"g":"0.08","m":"c"},{"x":0.695,"y":4.566,"g":"0.08","m":"c"},{"x":0.643,"y":4.479,"g":"0.08","m":"c"},
        {"x":0.594,"y":4.412,"g":"0.08","m":"c"},{"x":0.546,"y":4.346,"g":"0.08","m":"c"},{"x":0.474,"y":4.247,"g":"0.08","m":"c"},{"x":0.417,"y":4.168,"g":"0.08","m":"c"},
        {"x":0.355,"y":4.083,"g":"0.08","m":"c"},{"x":0.293,"y":3.998,"g":"0.08","m":"c"},{"x":0.236,"y":3.920,"g":"0.08","m":"c"},{"x":0.174,"y":3.834,"g":"0.08","m":"c"},
        {"x":0.117,"y":3.756,"g":"0.08","m":"c"},{"x":0.056,"y":3.672,"g":"0.08","m":"c"},{"x":-0.030,"y":3.554,"g":"0.08","m":"c"},
        {"x":-0.086,"y":3.477,"g":"0.08","m":"c"},{"x":-0.141,"y":3.401,"g":"0.08","m":"c"},{"x":-0.196,"y":3.326,"g":"0.08","m":"c"},{"x":-0.259,"y":3.239,"g":"0.08","m":"c"},
        {"x":-0.315,"y":3.162,"g":"0.08","m":"c"},{"x":-0.376,"y":3.078,"g":"0.08","m":"c"},{"x":-0.433,"y":3.000,"g":"0.08","m":"c"},{"x":-0.495,"y":2.914,"g":"0.08","m":"c"},
        {"x":-0.562,"y":2.822,"g":"0.08","m":"c"},{"x":-0.612,"y":2.754,"g":"0.08","m":"c"},{"x":-0.663,"y":2.683,"g":"0.08","m":"c"},{"x":-0.710,"y":2.619,"g":"0.08","m":"c"},
        {"x":-0.762,"y":2.547,"g":"0.08","m":"c"},{"x":-0.813,"y":2.477,"g":"0.08","m":"c"},{"x":-0.861,"y":2.411,"g":"0.08","m":"c"},{"x":-0.912,"y":2.341,"g":"0.08","m":"c"},
        {"x":-0.962,"y":2.272,"g":"0.08","m":"c"},

        {"x":-0.988,"y":4.969,"g":"0.04","m":"c"},{"x":-0.942,"y":4.905,"g":"0.04","m":"c"},{"x":-0.890,"y":4.834,"g":"0.04","m":"c"},{"x":-0.839,"y":4.764,"g":"0.04","m":"c"},
        {"x":-0.793,"y":4.700,"g":"0.04","m":"c"},{"x":-0.742,"y":4.630,"g":"0.04","m":"c"},{"x":-0.695,"y":4.566,"g":"0.04","m":"c"},{"x":-0.643,"y":4.509,"g":"0.04","m":"c"},
        {"x":-0.594,"y":4.442,"g":"0.04","m":"c"},{"x":-0.546,"y":4.376,"g":"0.04","m":"c"},{"x":-0.474,"y":4.277,"g":"0.04","m":"c"},{"x":-0.417,"y":4.198,"g":"0.04","m":"c"},
        {"x":-0.355,"y":4.113,"g":"0.04","m":"c"},{"x":-0.293,"y":4.028,"g":"0.04","m":"c"},{"x":-0.236,"y":3.950,"g":"0.04","m":"c"},{"x":-0.174,"y":3.864,"g":"0.04","m":"c"},
        {"x":-0.117,"y":3.786,"g":"0.04","m":"c"},{"x":-0.056,"y":3.702,"g":"0.04","m":"c"},{"x":0.000,"y":3.625,"g":"0.04","m":"c"},{"x":0.030,"y":3.584,"g":"0.04","m":"c"},
        {"x":0.086,"y":3.507,"g":"0.04","m":"c"},{"x":0.141,"y":3.431,"g":"0.04","m":"c"},{"x":0.196,"y":3.356,"g":"0.04","m":"c"},{"x":0.259,"y":3.269,"g":"0.04","m":"c"},
        {"x":0.315,"y":3.192,"g":"0.04","m":"c"},{"x":0.376,"y":3.108,"g":"0.04","m":"c"},{"x":0.433,"y":3.030,"g":"0.04","m":"c"},{"x":0.495,"y":2.944,"g":"0.04","m":"c"},
        {"x":0.562,"y":2.852,"g":"0.04","m":"c"},{"x":0.612,"y":2.784,"g":"0.04","m":"c"},{"x":0.663,"y":2.713,"g":"0.04","m":"c"},{"x":0.710,"y":2.649,"g":"0.04","m":"c"},
        {"x":0.762,"y":2.577,"g":"0.04","m":"c"},{"x":0.813,"y":2.507,"g":"0.04","m":"c"},{"x":0.861,"y":2.441,"g":"0.04","m":"c"},{"x":0.912,"y":2.371,"g":"0.04","m":"c"},
        {"x":0.962,"y":2.302,"g":"0.04","m":"c"},
        {"x":0.988,"y":4.969,"g":"0.04","m":"c"},{"x":0.942,"y":4.905,"g":"0.04","m":"c"},{"x":0.890,"y":4.834,"g":"0.04","m":"c"},{"x":0.839,"y":4.764,"g":"0.04","m":"c"},
        {"x":0.793,"y":4.700,"g":"0.04","m":"c"},{"x":0.742,"y":4.630,"g":"0.04","m":"c"},{"x":0.695,"y":4.566,"g":"0.04","m":"c"},{"x":0.643,"y":4.509,"g":"0.04","m":"c"},
        {"x":0.594,"y":4.442,"g":"0.04","m":"c"},{"x":0.546,"y":4.376,"g":"0.04","m":"c"},{"x":0.474,"y":4.277,"g":"0.04","m":"c"},{"x":0.417,"y":4.198,"g":"0.04","m":"c"},
        {"x":0.355,"y":4.113,"g":"0.04","m":"c"},{"x":0.293,"y":4.028,"g":"0.04","m":"c"},{"x":0.236,"y":3.950,"g":"0.04","m":"c"},{"x":0.174,"y":3.864,"g":"0.04","m":"c"},
        {"x":0.117,"y":3.786,"g":"0.04","m":"c"},{"x":0.056,"y":3.702,"g":"0.04","m":"c"},{"x":-0.030,"y":3.584,"g":"0.04","m":"c"},
        {"x":-0.086,"y":3.507,"g":"0.04","m":"c"},{"x":-0.141,"y":3.431,"g":"0.04","m":"c"},{"x":-0.196,"y":3.356,"g":"0.04","m":"c"},{"x":-0.259,"y":3.269,"g":"0.04","m":"c"},
        {"x":-0.315,"y":3.192,"g":"0.04","m":"c"},{"x":-0.376,"y":3.108,"g":"0.04","m":"c"},{"x":-0.433,"y":3.030,"g":"0.04","m":"c"},{"x":-0.495,"y":2.944,"g":"0.04","m":"c"},
        {"x":-0.562,"y":2.852,"g":"0.04","m":"c"},{"x":-0.612,"y":2.784,"g":"0.04","m":"c"},{"x":-0.663,"y":2.713,"g":"0.04","m":"c"},{"x":-0.710,"y":2.649,"g":"0.04","m":"c"},
        {"x":-0.762,"y":2.577,"g":"0.04","m":"c"},{"x":-0.813,"y":2.507,"g":"0.04","m":"c"},{"x":-0.861,"y":2.441,"g":"0.04","m":"c"},{"x":-0.912,"y":2.371,"g":"0.04","m":"c"},
        {"x":-0.962,"y":2.302,"g":"0.04","m":"c"}
      ]},
      "mark": {"type": "point", "filled": false, "size": 280, "strokeWidth": 2, "opacity": 1},
      "encoding": {
        "x": {
          "field": "x", "type": "quantitative",
          "scale": {"domain": [-1.85, 1.85], "nice": false, "zero": false},
          "axis": {
            "orient": "bottom", "values": [-1.5, -1, -0.5, 0, 0.5, 1, 1.5], "format": "~g",
            "tickSize": -40, "labelPadding": 49, "labelFontSize": 49,
            "title": "Sgn(ε) log(sinε × 10³)", "titleFontSize": 50,
            "titleAnchor": "end", "titleAlign": "right", "titleBaseline": "alphabetic", "titleX": 1552, "titleY": 110
          }
        },
        "y": {
          "field": "y", "type": "quantitative",
          "scale": {"domain": [0.2, 5.513], "nice": false, "zero": false},
          "axis": {
            "orient": "left", "values": [0.2, 1.8667, 3.5333, 5.2], "format": ".1f",
            "tickSize": -47, "labelPadding": 57, "labelFontSize": 35,
            "title": "log(Ω/Ω₀)", "titleFontSize": 41, "titleAngle": 270,
            "titleAlign": "right", "titleBaseline": "alphabetic", "titleX": -113, "titleY": 81
          }
        },
        "shape": {
          "field": "g", "type": "nominal",
          "scale": {"domain": ["0.04", "0.08", "0.126", "0.4"], "range": ["circle", "square", "triangle-up", "M0,-1L0.62,0L0,1L-0.62,0Z"]},
          "legend": {
            "orient": "none", "legendX": 10, "legendY": 22, "direction": "horizontal", "columns": 4, "columnPadding": 166,
            "title": "–◦– gₓ :", "titleOrient": "left", "titlePadding": 130, "titleFont": "DejaVu Sans", "titleFontSize": 44,
            "titleFontWeight": "normal", "titleColor": "black", "titleBaseline": "middle",
            "labelFont": "DejaVu Sans", "labelFontSize": 44, "labelColor": "black", "labelOffset": 19, "labelBaseline": "middle",
            "symbolSize": 250, "symbolStrokeWidth": 2, "symbolStrokeColor": "black", "symbolFillColor": "transparent", "padding": 0
          }
        },
        "color": {
          "field": "m", "type": "nominal",
          "scale": {"domain": ["f", "c"], "range": ["#0000ff", "#000000"]},
          "legend": null
        }
      }
    },
    {
      "data": {"values": [{}]},
      "mark": {"type": "rule", "color": "black", "strokeWidth": 2},
      "encoding": {
        "x": {"datum": -1.85, "type": "quantitative", "axis": {"orient": "bottom", "values": [-1.8, -1.7, -1.6, -1.4, -1.3, -1.2, -1.1, -0.9, -0.8, -0.7, -0.6, -0.4, -0.3, -0.2, -0.1, 0.1, 0.2, 0.3, 0.4, 0.6, 0.7, 0.8, 0.9, 1.1, 1.2, 1.3, 1.4, 1.6, 1.7, 1.8], "tickSize": -20, "labels": false, "title": null}},
        "x2": {"datum": 1.85},
        "y": {"datum": 5.2, "type": "quantitative", "axis": {"orient": "left", "values": [0.6167, 1.0333, 1.45, 2.2833, 2.7, 3.1167, 3.95, 4.3667, 4.7833], "tickSize": -24, "labels": false, "title": null}}
      }
    }
  ],
  "resolve": {"axis": {"x": "independent", "y": "independent"}}
}
